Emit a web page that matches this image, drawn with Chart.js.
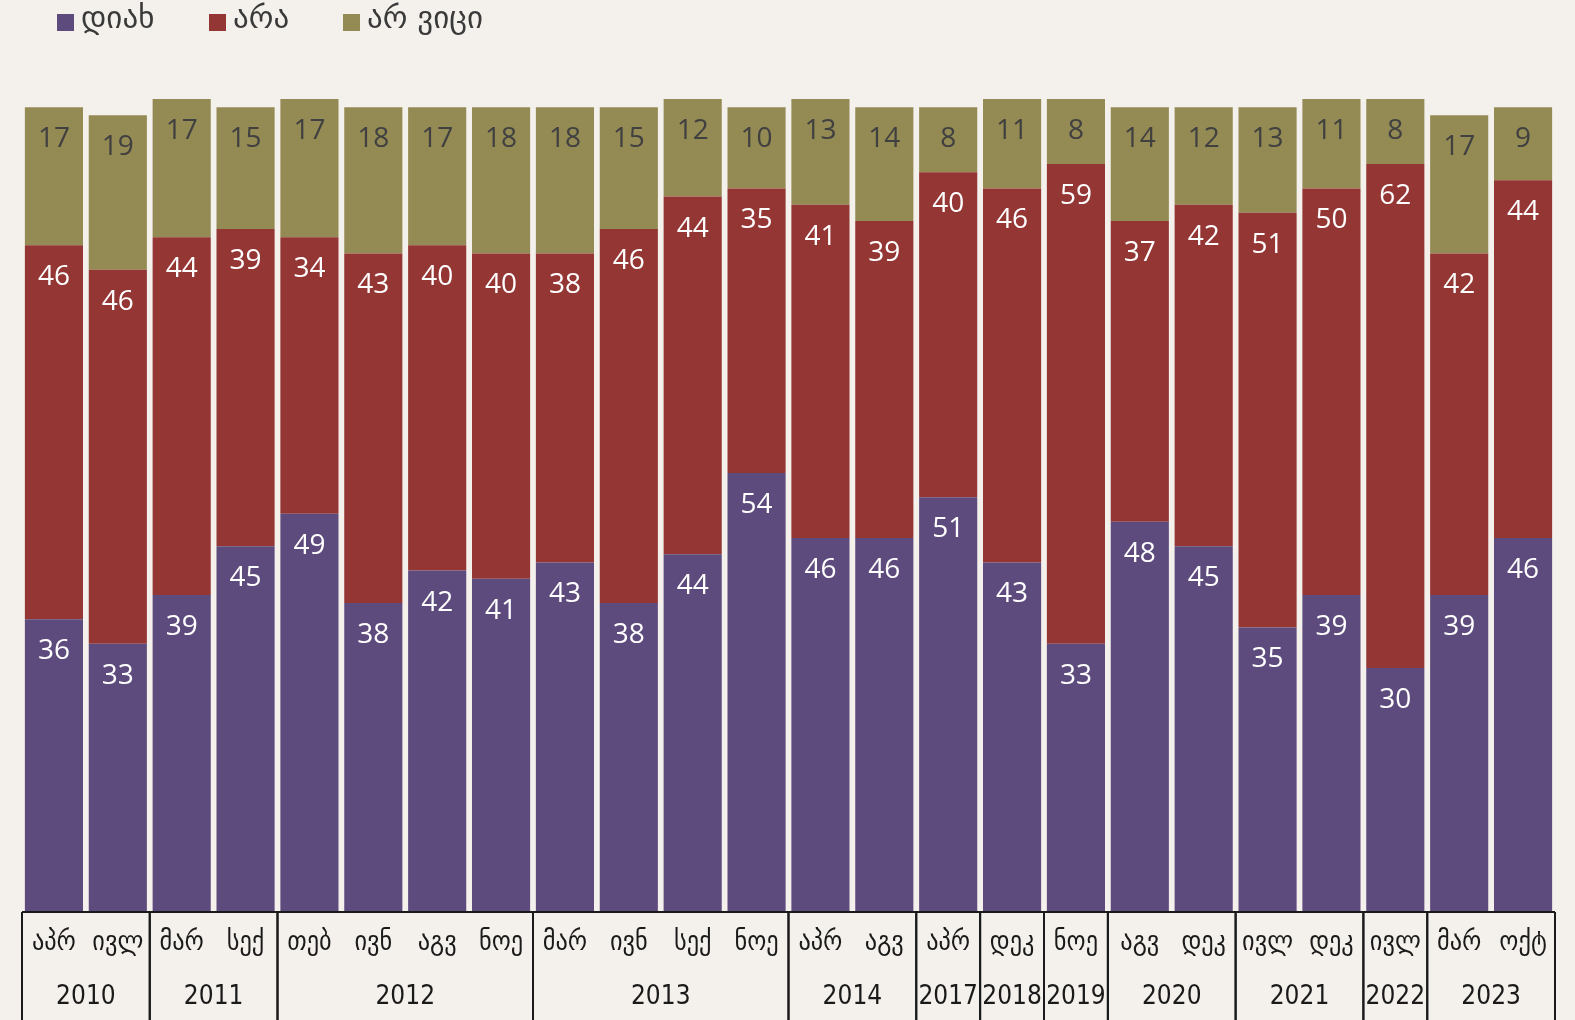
<!DOCTYPE html>
<html>
<head>
<meta charset="utf-8">
<script src="https://cdn.jsdelivr.net/npm/chart.js@4.4.0/dist/chart.umd.min.js"></script>
<style>
  html, body { margin: 0; padding: 0; background: #f4f1ec; }
</style>
</head>
<body>
<canvas id="myChart" width="1575" height="1020"></canvas>
<script>
// survey rounds: month label + year
const months = ['აპრ', 'ივლ', 'მარ', 'სექ', 'თებ', 'ივნ', 'აგვ', 'ნოე', 'მარ', 'ივნ', 'სექ', 'ნოე',
  'აპრ', 'აგვ', 'აპრ', 'დეკ', 'ნოე', 'აგვ', 'დეკ', 'ივლ', 'დეკ', 'ივლ', 'მარ', 'ოქტ'];
const years = ['2010', '2010', '2011', '2011', '2012', '2012', '2012', '2012', '2013', '2013', '2013', '2013',
  '2014', '2014', '2017', '2018', '2019', '2020', '2020', '2021', '2021', '2022', '2023', '2023'];

const yes = [36, 33, 39, 45, 49, 38, 42, 41, 43, 38, 44, 54, 46, 46, 51, 43, 33, 48, 45, 35, 39, 30, 39, 46];
const no = [46, 46, 44, 39, 34, 43, 40, 40, 38, 46, 44, 35, 41, 39, 40, 46, 59, 37, 42, 51, 50, 62, 42, 44];
const dontKnow = [17, 19, 17, 15, 17, 18, 17, 18, 18, 15, 12, 10, 13, 14, 8, 11, 8, 14, 12, 13, 11, 8, 17, 9];

const seriesNames = ['დიახ', 'არა', 'არ ვიცი'];
const colors = ['#5e4b7d', '#943634', '#948a54'];
const labelColors = ['#ffffff', '#ffffff', '#404040'];

const geo = '"DejaVu Sans", sans-serif';
const geoNarrow = '"DejaVu Sans Condensed", "DejaVu Sans", sans-serif';

// value labels near the top of each segment
const valueLabels = {
  id: 'valueLabels',
  afterDatasetsDraw(chart) {
    const ctx = chart.ctx;
    ctx.save();
    ctx.font = '28px "Open Sans", sans-serif';
    ctx.textAlign = 'center';
    ctx.textBaseline = 'middle';
    chart.data.datasets.forEach((ds, di) => {
      const meta = chart.getDatasetMeta(di);
      ctx.fillStyle = labelColors[di];
      meta.data.forEach((bar, i) => {
        ctx.fillText(ds.data[i], bar.x, bar.y + 32);
      });
    });
    ctx.restore();
  }
};

// year row + separators under the month ticks
const yearAxis = {
  id: 'yearAxis',
  afterDraw(chart) {
    const ctx = chart.ctx;
    const x = chart.scales.x;
    const area = chart.chartArea;
    const step = (area.right - area.left) / months.length;
    const bottom = chart.height;
    ctx.save();
    ctx.strokeStyle = '#1a1a1a';
    ctx.lineWidth = 2;
    ctx.fillStyle = '#1a1a1a';
    ctx.font = '26px ' + geoNarrow;
    ctx.textAlign = 'center';
    ctx.textBaseline = 'middle';
    let start = 0;
    for (let i = 1; i <= years.length; i++) {
      if (i === years.length || years[i] !== years[start]) {
        const l = x.getPixelForValue(start) - step / 2;
        const r = x.getPixelForValue(i - 1) + step / 2;
        ctx.beginPath();
        ctx.moveTo(l, area.bottom);
        ctx.lineTo(l, bottom);
        ctx.moveTo(r, area.bottom);
        ctx.lineTo(r, bottom);
        ctx.stroke();
        ctx.fillText(years[start], (l + r) / 2, 997);
        start = i;
      }
    }
    ctx.beginPath();
    ctx.moveTo(area.left, area.bottom);
    ctx.lineTo(area.right, area.bottom);
    ctx.stroke();
    ctx.restore();
  }
};

// legend squares at the top left
const topLegend = {
  id: 'topLegend',
  afterDraw(chart) {
    const ctx = chart.ctx;
    const xs = [57, 209, 343];
    ctx.save();
    ctx.font = '31px ' + geo;
    ctx.textBaseline = 'middle';
    seriesNames.forEach((name, i) => {
      ctx.fillStyle = colors[i];
      ctx.fillRect(xs[i], 14, 17, 17);
      ctx.fillStyle = '#3a3a3a';
      ctx.fillText(name, xs[i] + 24, 20);
    });
    ctx.restore();
  }
};

const data = {
  labels: months,
  datasets: [
    { label: seriesNames[0], data: yes, backgroundColor: colors[0] },
    { label: seriesNames[1], data: no, backgroundColor: colors[1] },
    { label: seriesNames[2], data: dontKnow, backgroundColor: colors[2] }
  ]
};

const config = {
  type: 'bar',
  data: data,
  options: {
    responsive: false,
    animation: false,
    layout: { padding: { left: 22, right: 20, top: 99, bottom: 0 } },
    datasets: {
      bar: { categoryPercentage: 1, barPercentage: 0.91, borderWidth: 0 }
    },
    plugins: {
      legend: { display: false },
      tooltip: { enabled: false }
    },
    scales: {
      x: {
        stacked: true,
        grid: { display: false, drawTicks: false },
        border: { display: false },
        ticks: {
          color: '#1a1a1a',
          font: { family: geoNarrow, size: 27 },
          padding: 15,
          maxRotation: 0,
          autoSkip: false
        },
        afterFit: (scale) => { scale.height = 108; }
      },
      y: {
        stacked: true,
        display: false,
        min: 0,
        max: 100
      }
    }
  },
  plugins: [valueLabels, yearAxis, topLegend]
};

const myChart = new Chart(document.getElementById('myChart'), config);
</script>
</body>
</html>
